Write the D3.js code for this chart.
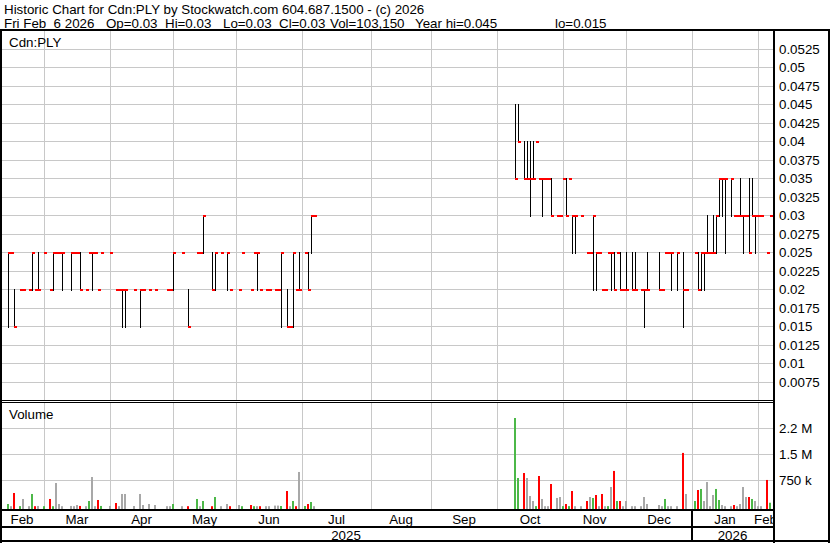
<!DOCTYPE html>
<html>
<head>
<meta charset="utf-8">
<script src="https://cdn.jsdelivr.net/npm/d3@7"></script>
<style>
	body { margin: 0; background: #fff; }
	svg text { font-family: "Liberation Sans", Arial, sans-serif; font-size: 13.33px; fill: #000; }
</style>
</head>
<body>
<div id="chart"></div>
<script>
// Header text (second line is a set of fields)
var headerTitle = "Historic Chart for Cdn:PLY by Stockwatch.com 604.687.1500 - (c) 2026";
var headerFields = ["Fri Feb  6 2026", "Op=0.03", "Hi=0.03", "Lo=0.03", "Cl=0.03",
	"Vol=103,150", "Year hi=0.045", "lo=0.015"];

// Month / year categories (chart column where each one starts)
var monthLabels = ["Feb", "Mar", "Apr", "May", "Jun", "Jul", "Aug", "Sep", "Oct", "Nov", "Dec", "Jan", "Feb"];
var monthStart  = [0, 12, 34, 55, 76, 98, 121, 141, 163, 185, 206, 228, 250];
var yearLabels = ["2025", "2026"];
var yearStart  = [0, 228];
var lastCol = 254;

// Axis ticks
var priceTicks = [0.0075, 0.01, 0.0125, 0.015, 0.0175, 0.02, 0.0225, 0.025, 0.0275, 0.03,
	0.0325, 0.035, 0.0375, 0.04, 0.0425, 0.045, 0.0475, 0.05, 0.0525];
var volTicks = [750000, 1500000, 2250000];
var volTickLabels = ["750 k", "1.5 M", "2.2 M"];

// close of the session before the first one shown (colours the first volume bar)
var prevClose = 0.02;

// Traded sessions: chart column, high, low, close, volume
var tradeCol = [
	0, 1, 2, 4, 5, 7, 8, 9, 10, 12,
	14, 15, 16, 17, 18, 21, 22, 23, 24, 26,
	27, 28, 29, 30, 31, 34, 36, 37, 38, 39,
	42, 44, 45, 47, 49, 53, 54, 55, 58, 60,
	63, 64, 65, 68, 69, 71, 73, 74, 77, 78,
	81, 82, 83, 84, 86, 87, 89, 90, 91, 93,
	94, 95, 96, 97, 99, 100, 101, 102,
	169, 170, 172, 173, 174, 175, 176, 177, 178, 179,
	180, 181, 183, 184, 185, 186, 187, 188, 189, 191,
	193, 194, 195, 196, 197, 198, 199, 200, 201, 202,
	203, 204, 205, 206, 208, 209, 211, 212, 213, 217,
	218, 219, 220, 221, 223, 225, 226, 229, 230, 231,
	232, 233, 234, 235, 236, 237, 238, 239, 241, 242,
	243, 244, 245, 246, 247, 248, 249, 250, 251, 253,
	254
];
var tradeHi = [
	.025, .025, .02, .02, .02, .02, .025, .02, .025, .025,
	.02, .025, .025, .025, .025, .025, .025, .025, .025, .02,
	.025, .025, .025, .02, .025, .025, .02, .02, .02, .02,
	.02, .02, .02, .02, .02, .02, .02, .025, .025, .02,
	.025, .025, .03, .025, .025, .025, .025, .02, .02, .025,
	.02, .025, .025, .02, .02, .02, .02, .02, .025, .02,
	.015, .025, .02, .025, .025, .025, .03, .03,
	.045, .045, .04, .04, .04, .04, .04, .035, .035, .035,
	.035, .035, .03, .03, .035, .035, .035, .03, .03, .03,
	.025, .025, .03, .025, .025, .02, .02, .025, .025, .025,
	.025, .025, .02, .025, .025, .025, .02, .02, .025, .025,
	.02, .025, .025, .025, .025, .025, .02, .025, .025, .025,
	.025, .03, .025, .03, .03, .035, .035, .035, .035, .03,
	.03, .035, .03, .03, .035, .035, .03, .03, .03, .025,
	.03
];
var tradeLo = [
	.015, .025, .015, .02, .02, .02, .02, .02, .02, .025,
	.02, .02, .025, .025, .02, .02, .025, .025, .02, .02,
	.025, .02, .025, .02, .025, .025, .02, .02, .015, .015,
	.02, .015, .02, .02, .02, .02, .02, .02, .025, .015,
	.025, .025, .025, .02, .02, .025, .02, .02, .02, .025,
	.02, .025, .02, .02, .02, .02, .02, .02, .015, .015,
	.015, .015, .02, .02, .025, .02, .025, .03,
	.035, .04, .035, .035, .03, .035, .04, .035, .03, .035,
	.035, .03, .03, .03, .035, .03, .035, .025, .025, .03,
	.025, .025, .02, .02, .025, .02, .02, .025, .02, .02,
	.025, .02, .02, .02, .02, .02, .02, .015, .02, .02,
	.02, .025, .025, .02, .02, .015, .02, .025, .02, .02,
	.02, .025, .025, .025, .025, .03, .03, .025, .03, .03,
	.03, .03, .025, .03, .025, .03, .025, .03, .03, .025,
	.03
];
var tradeCl = [
	.025, .025, .015, .02, .02, .02, .025, .02, .02, .025,
	.02, .025, .025, .025, .025, .025, .025, .025, .02, .02,
	.025, .025, .025, .02, .025, .025, .02, .02, .02, .02,
	.02, .02, .02, .02, .02, .02, .02, .025, .025, .015,
	.025, .025, .03, .02, .025, .025, .025, .02, .02, .025,
	.02, .025, .025, .02, .02, .02, .02, .02, .025, .015,
	.015, .025, .02, .02, .025, .02, .03, .03,
	.035, .04, .035, .035, .035, .035, .04, .035, .035, .035,
	.035, .03, .03, .03, .035, .03, .035, .03, .03, .03,
	.025, .025, .03, .025, .025, .02, .02, .025, .025, .02,
	.025, .02, .02, .02, .02, .02, .02, .02, .02, .02,
	.02, .025, .025, .025, .025, .02, .02, .025, .02, .025,
	.025, .025, .025, .025, .03, .035, .035, .035, .035, .03,
	.03, .03, .03, .03, .025, .03, .03, .03, .03, .025,
	.03
];
var tradeVol = [
	66000, 3000, 384000, 5000, 211000, 3000, 355000, 3000, 10000, 3000,
	211000, 3000, 672000, 66000, 3000, 10000, 3000, 37000, 10000, 3000,
	153000, 845000, 3000, 182000, 10000, 10000, 95000, 3000, 355000, 355000,
	8000, 355000, 37000, 66000, 37000, 3000, 3000, 66000, 3000, 3000,
	211000, 3000, 153000, 3000, 268000, 3000, 66000, 3000, 37000, 3000,
	37000, 3000, 3000, 3000, 3000, 3000, 20000, 20000, 8000, 441000,
	3000, 153000, 3000, 990000, 8000, 66000, 124000, 3000,
	2547000, 816000, 960000, 816000, 297000, 153000, 5000, 874000, 211000, 3000,
	3000, 643000, 240000, 268000, 5000, 66000, 5000, 441000, 3000, 3000,
	153000, 268000, 240000, 326000, 3000, 355000, 3000, 5000, 557000, 1020000,
	153000, 153000, 3000, 153000, 3000, 3000, 3000, 268000, 66000, 37000,
	3000, 211000, 3000, 3000, 3000, 1540000, 355000, 153000, 470000, 500000,
	153000, 700000, 3000, 326000, 500000, 182000, 37000, 3000, 3000, 37000,
	3000, 66000, 557000, 268000, 268000, 211000, 153000, 3000, 3000, 760000,
	103150
];

var W = 830, H = 543;
var plotL = 2, plotR = 773;          // inner chart area, left of the price axis
var priceTop = 31, priceBot = 400;
var volTop = 402, volBot = 509;
var gridColor = "#c8c8c8";
var upColor = "#4cb848", downColor = "#ff0000", flatColor = "#a8a8a8";
var fieldX = [4, 106, 165, 223, 279, 330, 415, 555];   // where each header field starts

// Scales: one 3px column per session
var x = d3.scaleLinear().domain([0, lastCol]).range([8, 8 + 3 * lastCol]);
var yP = d3.scaleLinear().domain([0.005, 0.055]).range([400, 30.5]);
var yV = d3.scaleLinear().domain([0, 3000000]).range([506.3, 402.3]);

var crisp = function(v) { return Math.round(v) + 0.5; };
var nbsp = function(s) { return s.replace(/ /g, "\u00a0"); };

var svg = d3.select("#chart").append("svg")
	.attr("width", W)
	.attr("height", H)
	.style("display", "block");

svg.append("rect").attr("width", W).attr("height", H).attr("fill", "#fff");

// Header
svg.append("text").attr("x", 4).attr("y", 13.5).text(headerTitle);
svg.append("text").attr("y", 27.5)
	.selectAll("tspan")
	.data(headerFields)
	.enter().append("tspan")
	.attr("x", function(d, i) { return fieldX[i]; })
	.text(function(d) { return nbsp(d); });

var clip = svg.append("defs").append("clipPath").attr("id", "plotclip");
clip.append("rect").attr("x", plotL).attr("y", 0).attr("width", plotR - plotL).attr("height", H);

var grid = svg.append("g").attr("clip-path", "url(#plotclip)");

// Horizontal grid, price panel
grid.selectAll("line.pg")
	.data(priceTicks)
	.enter().append("line")
	.attr("x1", plotL).attr("x2", plotR)
	.attr("y1", function(d) { return crisp(yP(d)); })
	.attr("y2", function(d) { return crisp(yP(d)); })
	.attr("stroke", gridColor);

// Horizontal grid, volume panel
grid.selectAll("line.vg")
	.data(volTicks)
	.enter().append("line")
	.attr("x1", plotL).attr("x2", plotR)
	.attr("y1", function(d) { return crisp(yV(d)); })
	.attr("y2", function(d) { return crisp(yV(d)); })
	.attr("stroke", gridColor);

// Vertical month grid in both panels
var monthLines = monthStart.slice(1);
[[priceTop, priceBot], [volTop, volBot]].forEach(function(r) {
	grid.append("g").selectAll("line")
		.data(monthLines)
		.enter().append("line")
		.attr("x1", function(d) { return x(d) + 0.5; })
		.attr("x2", function(d) { return x(d) + 0.5; })
		.attr("y1", r[0]).attr("y2", r[1])
		.attr("stroke", gridColor);
});

// Price bars: high-low line, close tick
var trades = tradeCol.map(function(c, i) {
	var prev = i === 0 ? prevClose : tradeCl[i - 1];
	return { col: c, hi: tradeHi[i], lo: tradeLo[i], cl: tradeCl[i], vol: tradeVol[i], prev: prev };
});

var bars = svg.append("g").attr("clip-path", "url(#plotclip)");
bars.selectAll("line.hl")
	.data(trades.filter(function(d) { return d.hi > d.lo; }))
	.enter().append("line")
	.attr("x1", function(d) { return x(d.col) + 0.5; })
	.attr("x2", function(d) { return x(d.col) + 0.5; })
	.attr("y1", function(d) { return Math.round(yP(d.hi)); })
	.attr("y2", function(d) { return Math.round(yP(d.lo)) + 2; })
	.attr("stroke", "#000");

bars.selectAll("rect.cl")
	.data(trades)
	.enter().append("rect")
	.attr("x", function(d) { return x(d.col); })
	.attr("y", function(d) { return Math.round(yP(d.cl)); })
	.attr("width", 3)
	.attr("height", 2)
	.attr("fill", downColor);

// Volume bars, coloured by change in close
bars.selectAll("rect.vol")
	.data(trades)
	.enter().append("rect")
	.attr("x", function(d) { return x(d.col) - 1; })
	.attr("y", function(d) { return yV(d.vol); })
	.attr("width", 2)
	.attr("height", function(d) { return volBot - yV(d.vol); })
	.attr("fill", function(d) {
		if (d.cl > d.prev) return upColor;
		if (d.cl < d.prev) return downColor;
		return flatColor;
	});

// Panel titles
svg.append("text").attr("x", 9).attr("y", 46.5).text("Cdn:PLY");
svg.append("text").attr("x", 9).attr("y", 418.5).text("Volume");

// Right axis labels
svg.selectAll("text.py")
	.data(priceTicks)
	.enter().append("text")
	.attr("x", 779)
	.attr("y", function(d) { return Math.round(yP(d)) + 5; })
	.text(function(d) { return String(+d.toFixed(4)); });

svg.selectAll("text.vy")
	.data(volTicks)
	.enter().append("text")
	.attr("x", 779)
	.attr("y", function(d) { return Math.round(yV(d)) + 5; })
	.text(function(d, i) { return volTickLabels[i]; });

// Month labels, centred in each month span
var monthEdges = monthStart.map(function(c, i) { return i === 0 ? 0 : x(c); });
monthEdges.push(plotR);
svg.append("g").attr("clip-path", "url(#plotclip)")
	.selectAll("text")
	.data(monthLabels)
	.enter().append("text")
	.attr("x", function(d, i) { return (monthEdges[i] + monthEdges[i + 1]) / 2; })
	.attr("y", 523.5)
	.attr("text-anchor", "middle")
	.text(function(d) { return d; });

// Year labels
var yearEdges = yearStart.map(function(c, i) { return i === 0 ? 0 : x(c); });
yearEdges.push(plotR);
svg.selectAll("text.yr")
	.data(yearLabels)
	.enter().append("text")
	.attr("x", function(d, i) { return (yearEdges[i] + yearEdges[i + 1]) / 2; })
	.attr("y", 539.5)
	.attr("text-anchor", "middle")
	.text(function(d) { return d; });

// Frame
var frame = svg.append("g").attr("fill", "#000");
frame.append("rect").attr("x", 0).attr("y", 29).attr("width", W).attr("height", 2);
frame.append("rect").attr("x", 0).attr("y", 29).attr("width", 2).attr("height", H - 29);
frame.append("rect").attr("x", plotR).attr("y", 29).attr("width", 2).attr("height", H - 29);
frame.append("rect").attr("x", W - 2).attr("y", 29).attr("width", 2).attr("height", H - 29);
frame.append("rect").attr("x", 0).attr("y", priceBot).attr("width", plotR).attr("height", 1);
frame.append("rect").attr("x", 0).attr("y", volTop).attr("width", plotR).attr("height", 1);
frame.append("rect").attr("x", 0).attr("y", volBot).attr("width", plotR).attr("height", 2);
frame.append("rect").attr("x", 0).attr("y", 526).attr("width", plotR).attr("height", 2);
frame.append("rect").attr("x", 0).attr("y", 540).attr("width", W).attr("height", 2);
frame.append("rect").attr("x", Math.round(x(yearStart[1])) - 1).attr("y", volBot).attr("width", 2).attr("height", 540 - volBot);
</script>
</body>
</html>
